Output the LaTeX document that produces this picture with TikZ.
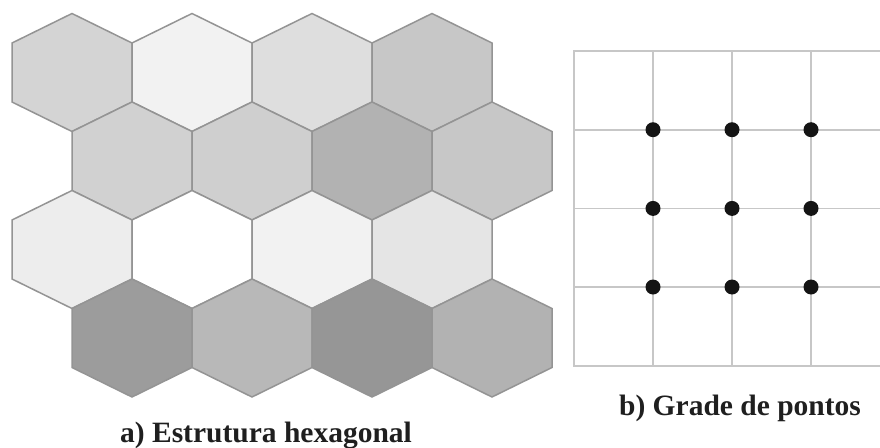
\documentclass[tikz,border=0pt]{standalone}
\usepackage{fontspec}
\setmainfont{Liberation Serif}
\begin{document}
\begin{tikzpicture}[x=1pt,y=-1pt,
  hexedge/.style={draw=black!42, line width=1.5pt, line join=miter},
  gridline/.style={draw=black!22, line width=1.6pt},
  gdot/.style={circle, fill=black!92, inner sep=0pt, minimum size=15pt},
  caption/.style={font=\bfseries\fontsize{29.5}{34}\selectfont, anchor=base, inner sep=0pt, text=black!88}]
\useasboundingbox (0,0) rectangle (880,447);
\newcommand\hexcell[3]{%
  \filldraw[hexedge, fill=#3] (#1,#2-59) -- (#1+60,#2-29.5) -- (#1+60,#2+29.5) -- (#1,#2+59) -- (#1-60,#2+29.5) -- (#1-60,#2-29.5) -- cycle;}
% row 1
\hexcell{72}{72.5}{black!17}
\hexcell{192}{72.5}{black!5}
\hexcell{312}{72.5}{black!13}
\hexcell{432}{72.5}{black!22}
% row 2
\hexcell{132}{161}{black!18}
\hexcell{252}{161}{black!19}
\hexcell{372}{161}{black!30}
\hexcell{492}{161}{black!22}
% row 3
\hexcell{72}{249.5}{black!7}
\hexcell{192}{249.5}{white}
\hexcell{312}{249.5}{black!5}
\hexcell{432}{249.5}{black!10}
% row 4
\hexcell{132}{338}{black!39}
\hexcell{252}{338}{black!28}
\hexcell{372}{338}{black!41}
\hexcell{492}{338}{black!30}
% grid
\foreach \gx in {574,653,732,811} \draw[gridline] (\gx,51) -- (\gx,365.8);
\foreach \gy in {51,129.7,208.4,287,365.8} \draw[gridline] (573.2,\gy) -- (880,\gy);
\foreach \gx/\i in {653/1,732/2,811/3} \foreach \gy/\j in {129.7/1,208.4/2,287/3}
  \node[gdot] (d\i\j) at (\gx,\gy) {};
% captions
\node[caption] (capa) at (266,442) {a) Estrutura hexagonal};
\node[caption] (capb) at (740,415) {b) Grade de pontos};
\end{tikzpicture}
\end{document}
